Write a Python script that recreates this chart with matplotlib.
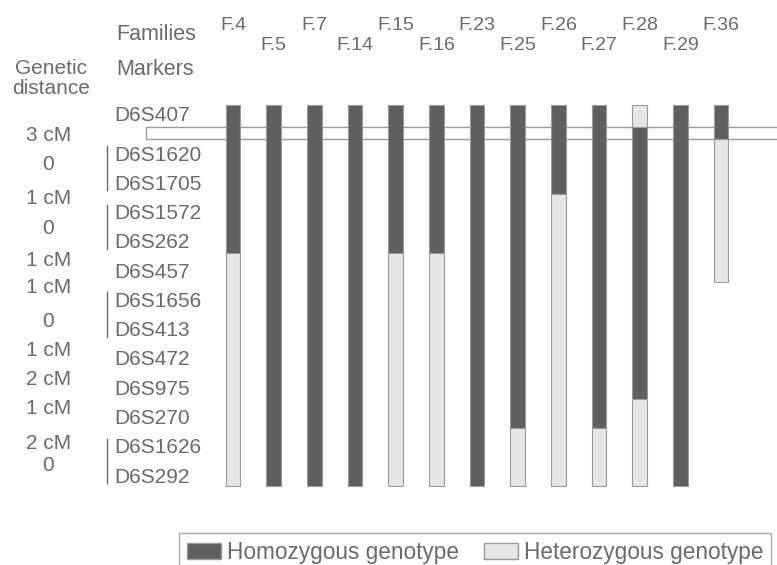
import matplotlib.pyplot as plt
from matplotlib.patches import Patch, Rectangle

plt.rcParams['font.family'] = ['Liberation Sans', 'DejaVu Sans']

families = ['F.4', 'F.5', 'F.7', 'F.14', 'F.15', 'F.16', 'F.23',
            'F.25', 'F.26', 'F.27', 'F.28', 'F.29', 'F.36']
markers = ['D6S407', 'D6S1620', 'D6S1705', 'D6S1572', 'D6S262', 'D6S457',
           'D6S1656', 'D6S413', 'D6S472', 'D6S975', 'D6S270', 'D6S1626', 'D6S292']
distances = ['3 cM', '0', '1 cM', '0', '1 cM', '1 cM', '0',
             '1 cM', '2 cM', '1 cM', '2 cM', '0']
# marker pairs with no recombination between them (bracketed)
linked = [(1, 2), (3, 4), (6, 7), (11, 12)]
# genotype at each marker, top to bottom: H homozygous, h heterozygous, - none
genotypes = {
    'F.4':  'HHHHHhhhhhhhh',
    'F.5':  'HHHHHHHHHHHHH',
    'F.7':  'HHHHHHHHHHHHH',
    'F.14': 'HHHHHHHHHHHHH',
    'F.15': 'HHHHHhhhhhhhh',
    'F.16': 'HHHHHhhhhhhhh',
    'F.23': 'HHHHHHHHHHHHH',
    'F.25': 'HHHHHHHHHHHhh',
    'F.26': 'HHHhhhhhhhhhh',
    'F.27': 'HHHHHHHHHHHhh',
    'F.28': 'hHHHHHHHHHhhh',
    'F.29': 'HHHHHHHHHHHHH',
    'F.36': 'Hhhhhh-------',
}

DARK = '#5f5f5f'
LIGHT = '#e6e6e6'
EDGE = '#9a9a9a'
TXT = '#6b6b6b'
colors = {'H': DARK, 'h': LIGHT}

GAP = 0.367          # extra space between D6S407 and D6S1620 for the band
BAND = (0.58, 0.99)  # critical interval, bounded by the F.28 / F.36 crossovers
TOP_PAD, BOT_PAD = 0.17, 0.48
TEXT_DY = 0.17
FS = 15


def row_y(i):
    return i + (GAP if i >= 1 else 0)


def edge(i, upper):
    # boundary between marker i and i+1
    if i == 0:
        return BAND[0] if upper == 'h' else BAND[1]
    return (row_y(i) + row_y(i + 1)) / 2


fig = plt.figure(figsize=(7.77, 5.65), dpi=100)
ax = fig.add_axes([0, 0, 1, 1])
ax.set_xlim(-5.729, 13.376)
ax.set_ylim(15.54, -3.758)
ax.axis('off')

ax.add_patch(Rectangle((-2.14, BAND[0]), 20, BAND[1] - BAND[0],
                       facecolor='white', edgecolor=EDGE, lw=1, zorder=1))

n = len(markers)
for x, fam in enumerate(families):
    g = genotypes[fam]
    start = 0
    for i in range(1, n + 1):
        if i < n and g[i] == g[start]:
            continue
        state = g[start]
        if state != '-':
            top = row_y(0) - TOP_PAD if start == 0 else edge(start - 1, g[start - 1])
            bot = row_y(n - 1) + BOT_PAD if i == n else edge(i - 1, state)
            ax.bar(x, bot - top, bottom=top, width=0.36, color=colors[state],
                   edgecolor=EDGE, linewidth=0.8, zorder=2)
        start = i

# family labels, staggered
for x, fam in enumerate(families):
    y = -2.90 if x % 2 == 0 else -2.22
    ax.text(x, y, fam, ha='center', va='center', fontsize=14, color=TXT)

ax.text(-2.877, -2.59, 'Families', ha='left', va='center', fontsize=FS + 0.5, color=TXT)
ax.text(-2.877, -1.40, 'Markers', ha='left', va='center', fontsize=FS + 0.5, color=TXT)
ax.text(-4.47, -1.43, 'Genetic', ha='center', va='center', fontsize=FS, color=TXT)
ax.text(-4.47, -0.72, 'distance', ha='center', va='center', fontsize=FS, color=TXT)

for i, m in enumerate(markers):
    ax.text(-2.92, row_y(i) + TEXT_DY, m, ha='left', va='center',
            fontsize=FS, color=TXT)

dist_frac = [0.5, 0.33, 0.48, 0.52, 0.59, 0.52, 0.7, 0.66, 0.67, 0.66, 0.86, 0.59]
for k, (d, f) in enumerate(zip(distances, dist_frac)):
    y = row_y(k) + f * (row_y(k + 1) - row_y(k)) + TEXT_DY
    ax.text(-4.54, y, d, ha='center', va='center', fontsize=FS, color=TXT)

for a, b in linked:
    ax.plot([-3.10, -3.10], [row_y(a) - 0.14, row_y(b) + 0.37],
            color=TXT, lw=1)

handles = [Patch(facecolor=DARK, edgecolor=EDGE, label='Homozygous genotype'),
           Patch(facecolor=LIGHT, edgecolor=EDGE, label='Heterozygous genotype')]
leg = ax.legend(handles=handles, loc='upper left',
                bbox_to_anchor=(179 / 777, 1 - 533 / 565), ncol=2, fontsize=16.3,
                frameon=True, fancybox=False, edgecolor='#aaaaaa', framealpha=1,
                handlelength=1.5, handleheight=0.71, handletextpad=0.27,
                columnspacing=1.1, borderpad=0.35, borderaxespad=0,
                labelcolor=TXT)
leg.get_frame().set_linewidth(1)

fig.savefig('out.png', dpi=100)
